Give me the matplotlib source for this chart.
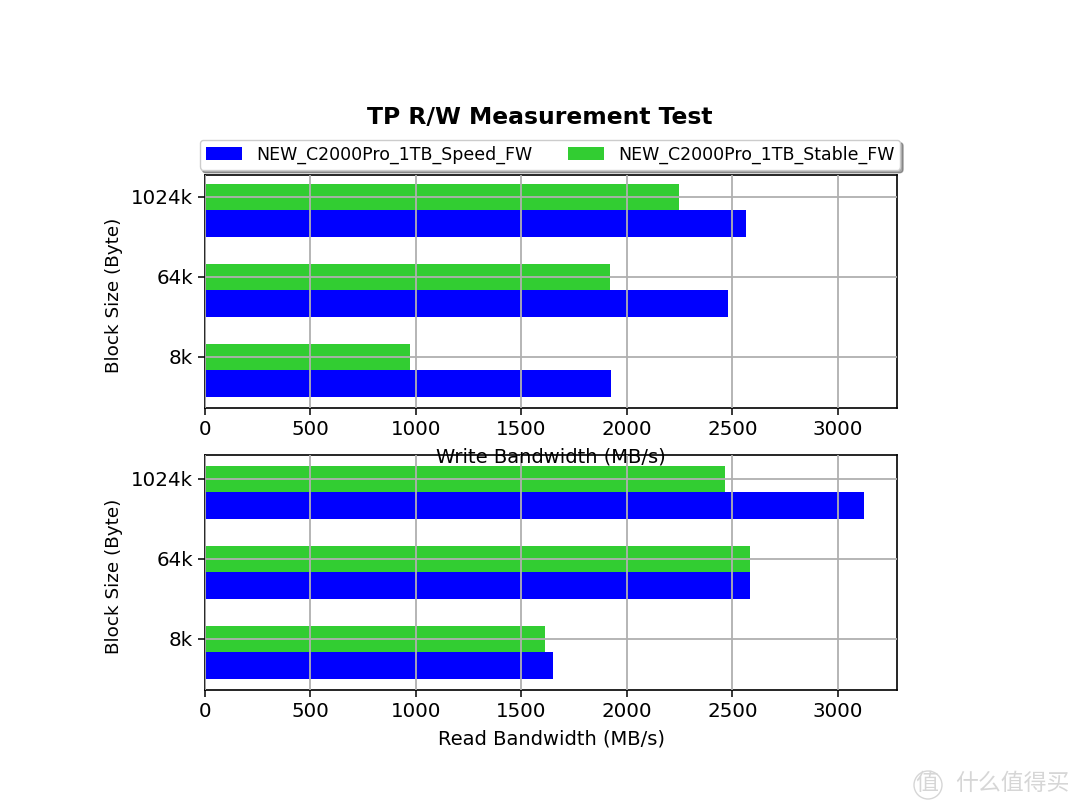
import numpy as np
import matplotlib
matplotlib.use("Agg")
import matplotlib.pyplot as plt
from matplotlib.patches import Circle

blocks = ["8k", "64k", "1024k"]
write_speed = [1925, 2478, 2565]
write_stable = [972, 1922, 2245]
read_speed = [1650, 2582, 3125]
read_stable = [1612, 2585, 2465]

label_speed = "NEW_C2000Pro_1TB_Speed_FW"
label_stable = "NEW_C2000Pro_1TB_Stable_FW"

fig = plt.figure(figsize=(10.8, 8.1), dpi=100)
ax1 = fig.add_axes([205 / 1080, 1 - 408 / 810, 692 / 1080, 233 / 810])
ax2 = fig.add_axes([205 / 1080, 1 - 690 / 810, 692 / 1080, 235 / 810])
ax1.set_zorder(2)  # its xlabel overlaps the lower axes and stays on top

y = np.arange(len(blocks))
h = 0.333


def draw(ax, speed, stable, xlabel, ylim):
    # green bar sits on the tick, blue one right below it
    ax.barh(y - h, speed, h, color="blue", label=label_speed)
    ax.barh(y, stable, h, color="limegreen", label=label_stable)
    ax.set_xlim(0, 3280)
    ax.set_ylim(*ylim)
    ax.set_yticks(y)
    ax.set_yticklabels(blocks)
    ax.set_xticks(range(0, 3500, 500))
    ax.tick_params(labelsize=14.3, length=5, width=1.1)
    ax.grid(True, color="#b0b0b0", linewidth=1.3)
    ax.set_axisbelow(False)
    ax.set_ylabel("Block Size (Byte)", fontsize=13.2)
    ax.yaxis.set_label_coords(-0.1185, 0.485)
    ax.set_xlabel(xlabel, fontsize=14, labelpad=6)
    for s in ax.spines.values():
        s.set_linewidth(1.2)


draw(ax1, write_speed, write_stable, "Write Bandwidth (MB/s)", (-0.6375, 2.275))
draw(ax2, read_speed, read_stable, "Read Bandwidth (MB/s)", (-0.6375, 2.3))

fig.text(0.5, 1 - 118 / 810, "TP R/W Measurement Test", fontsize=16.9, fontweight="bold",
         ha="center", va="center")
leg = ax1.legend(loc="lower center", bbox_to_anchor=(0.4985, 1.0), ncol=2, shadow=True,
                 fontsize=12.5, columnspacing=2.05, borderaxespad=0.29, handleheight=0.8,
                 handlelength=2.1, borderpad=0.34)

# site watermark, bottom right
wm = "#d6d6d6"
cjk = ["Noto Sans CJK SC", "DejaVu Sans"]
fig.text(1012 / 1080, 1 - 783 / 810, "什么值得买", fontsize=16.5, color=wm, family=cjk,
         ha="center", va="center")
fig.text(927 / 1080, 1 - 784 / 810, "值", fontsize=16.5, color=wm, family=cjk,
         ha="center", va="center")
wm_ax = fig.add_axes([0, 0, 1, 1], facecolor="none")
wm_ax.set_xlim(0, 1080)
wm_ax.set_ylim(810, 0)
wm_ax.axis("off")
wm_ax.add_patch(Circle((928, 785), 14, fill=False, edgecolor=wm, linewidth=1.0))

fig.savefig("out.png", dpi=100)
